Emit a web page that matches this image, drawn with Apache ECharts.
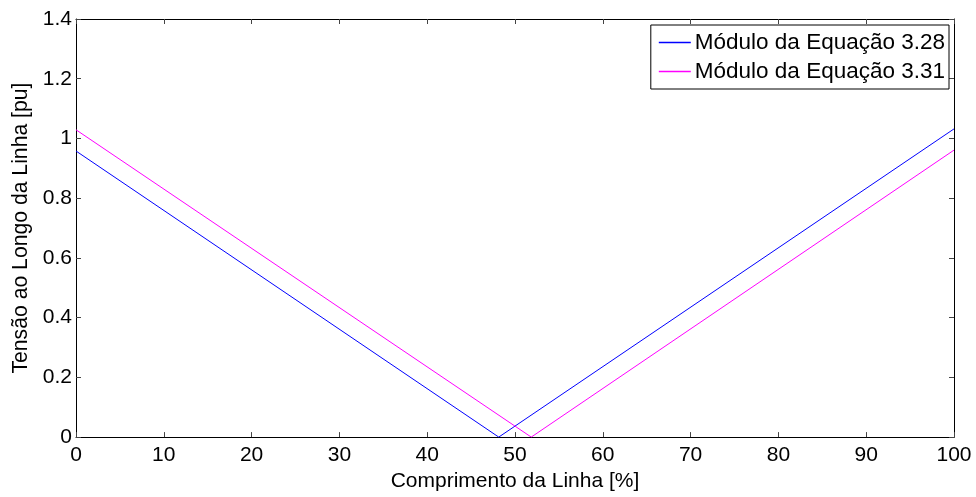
<!DOCTYPE html>
<html>
<head>
<meta charset="utf-8">
<script src="https://cdn.jsdelivr.net/npm/echarts@6/dist/echarts.min.js"></script>
<style>
  html, body { margin: 0; padding: 0; background: #fff; }
  #chart { width: 976px; height: 497px; }
</style>
</head>
<body>
<div id="chart"></div>
<script>
// Voltage magnitude along the line, per unit
const seriesNames = ['Módulo da Equação 3.28', 'Módulo da Equação 3.31'];
const seriesColors = ['#0000ff', '#ff00ff'];
const eq328 = [[0, 0.958], [48.15, 0.0], [100, 1.032]];
const eq331 = [[0, 1.029], [51.85, 0.0], [100, 0.961]];
const xTicks = [0, 10, 20, 30, 40, 50, 60, 70, 80, 90, 100];
const yTicks = [0, 0.2, 0.4, 0.6, 0.8, 1, 1.2, 1.4];

const FONT = 'Liberation Sans, Arial, sans-serif';
const axisLine = () => ({ show: true, onZero: false, lineStyle: { color: '#000', width: 1 } });
const tick = () => ({ show: true, inside: true, length: 5, lineStyle: { color: '#444', width: 1 } });

const chart = echarts.init(document.getElementById('chart'), null, { renderer: 'canvas' });
chart.setOption({
  backgroundColor: '#fff',
  animation: false,
  grid: { left: 76, right: 22, top: 19, bottom: 53, containLabel: false },
  legend: {
    right: 27, top: 25, orient: 'vertical',
    data: seriesNames.map((n, i) => ({ name: n, icon: 'rect', itemStyle: { color: seriesColors[i] } })),
    backgroundColor: '#fff',
    borderColor: '#000', borderWidth: 1, borderRadius: 0,
    padding: [6, 4, 6, 8],
    itemGap: 6, itemWidth: 32, itemHeight: 1.5,
    textStyle: { fontFamily: FONT, fontSize: 22.5, color: '#000', lineHeight: 22, padding: [0, 0, 0, -1] }
  },
  xAxis: [{
    type: 'value', min: xTicks[0], max: xTicks[xTicks.length - 1], interval: 10,
    position: 'bottom',
    name: 'Comprimento da Linha [%]', nameLocation: 'middle', nameGap: 31,
    nameTextStyle: { fontFamily: FONT, fontSize: 21, color: '#000' },
    axisLine: axisLine(), axisTick: tick(), splitLine: { show: false },
    axisLabel: { fontFamily: FONT, fontSize: 21, color: '#000', margin: 8 }
  }, {
    type: 'value', min: xTicks[0], max: xTicks[xTicks.length - 1], interval: 10,
    position: 'top', axisLine: axisLine(), axisTick: tick(), splitLine: { show: false },
    axisLabel: { show: false }
  }],
  yAxis: [{
    type: 'value', min: yTicks[0], max: yTicks[yTicks.length - 1], interval: 0.2,
    position: 'left',
    name: 'Tensão ao Longo da Linha [pu]', nameLocation: 'middle', nameGap: 44,
    nameTextStyle: { fontFamily: FONT, fontSize: 21.2, color: '#000' },
    axisLine: axisLine(), axisTick: tick(), splitLine: { show: false },
    axisLabel: {
      fontFamily: FONT, fontSize: 21, color: '#000', margin: 4,
      formatter: v => String(Math.round(v * 10) / 10)
    }
  }, {
    type: 'value', min: yTicks[0], max: yTicks[yTicks.length - 1], interval: 0.2,
    position: 'right', axisLine: axisLine(), axisTick: tick(), splitLine: { show: false },
    axisLabel: { show: false }
  }],
  series: [{
    name: seriesNames[0], type: 'line', data: eq328, symbol: 'none',
    lineStyle: { color: seriesColors[0], width: 1 }, itemStyle: { color: seriesColors[0] }
  }, {
    name: seriesNames[1], type: 'line', data: eq331, symbol: 'none',
    lineStyle: { color: seriesColors[1], width: 1 }, itemStyle: { color: seriesColors[1] }
  }]
});
</script>
</body>
</html>
